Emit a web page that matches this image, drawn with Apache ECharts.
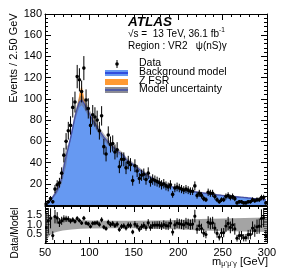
<!DOCTYPE html>
<html><head><meta charset="utf-8">
<script src="https://cdn.jsdelivr.net/npm/echarts@6/dist/echarts.min.js"></script>
<style>html,body{margin:0;padding:0;background:#fff}#c{width:283px;height:274px}</style>
</head><body><div id="c"></div>
<script>
// bin centres (2.5 GeV bins from 50 to 300 GeV)
const binCenters = [
 51.25,53.75,56.25,58.75,61.25,63.75,66.25,68.75,71.25,73.75,
 76.25,78.75,81.25,83.75,86.25,88.75,91.25,93.75,96.25,98.75,
 101.25,103.75,106.25,108.75,111.25,113.75,116.25,118.75,121.25,123.75,
 126.25,128.75,131.25,133.75,136.25,138.75,141.25,143.75,146.25,148.75,
 151.25,153.75,156.25,158.75,161.25,163.75,166.25,168.75,171.25,173.75,
 176.25,178.75,181.25,183.75,186.25,188.75,191.25,193.75,196.25,198.75,
 201.25,203.75,206.25,208.75,211.25,213.75,216.25,218.75,221.25,223.75,
 226.25,228.75,231.25,233.75,236.25,238.75,241.25,243.75,246.25,248.75,
 251.25,253.75,256.25,258.75,261.25,263.75,266.25,268.75,271.25,273.75,
 276.25,278.75,281.25,283.75,286.25,288.75,291.25,293.75,296.25,298.75];
// background model (events / bin)
const background = [
 1.2,2.5,4.5,7.5,10.5,14,19,25,36,46,
 54,63,73,83,91,97,99,96,92,88,
 84,80,77,73,70,67,64,61.5,59,57,
 55,53,51,49.5,48,46.5,43,41.5,40,38.5,
 36.5,35,33.5,32,30.5,29,27.5,26.2,25,23.8,
 22.7,21.7,20.8,20.0,19.2,18.4,17.7,17.0,16.4,15.8,
 15.3,14.8,14.3,13.9,13.5,13.1,12.7,12.4,12.1,11.8,
 11.5,11.2,10.9,10.7,10.4,10.1,9.9,9.6,9.4,9.1,
 8.9,8.7,8.5,8.3,8.1,7.9,7.7,7.5,7.3,7.1,
 7.0,6.7,6.5,6.2,6.0,5.7,5.5,5.3,5.1,4.9];
// Z FSR contribution (stacked on background)
const zfsr = [
 0,0,0,0,0,0,0,0,0,0,
 0,0,0,0,1,8,14,6,1,0,
 0,0,0,0,0,0,0,0,0,0,
 0,0,0,0,0,0,0,0,0,0,
 0,0,0,0,0,0,0,0,0,0,
 0,0,0,0,0,0,0,0,0,0,
 0,0,0,0,0,0,0,0,0,0,
 0,0,0,0,0,0,0,0,0,0,
 0,0,0,0,0,0,0,0,0,0,
 0,0,0,0,0,0,0,0,0,0];
// observed data (events / bin)
const dataCounts = [
 1,3,6,3,15,19,21,30,47,60,
 70,75,92,97,121,118,107,129,99,91,
 75,85,83,80,70,84,55,48,66,57,
 58,50,52,36,43,43,35,40,38,23,
 37,32,25,28,29,24,30,22,24,23,
 22,21,19,20,18,17,19,10,16,17,
 16,15,14,15,14,13,13,18,9,11,
 9,6,5,12,11,11,8,5,3,5,
 5,8,9,7,8,6,2,3,3,2,
 2,3,3,5,4,5,5,7,7,2];
// model uncertainty (relative) in main panel, per 25 GeV segment
const mainUncEdges = [50,75,100,125,150,175,200,225,250,275,300];
const mainUncRel = [0.2,0.05,0.05,0.05,0.06,0.06,0.07,0.08,0.09,0.1];
// model uncertainty band in ratio panel
const ratioBandX  = [50,53,56,60,65,70,80,90,100,125,150,175,200,225,250,275,300];
const ratioBandUp = [1.6,1.55,1.45,1.4,1.33,1.3,1.27,1.24,1.22,1.2,1.2,1.22,1.25,1.3,1.33,1.35,1.38];
const ratioBandDn = [0.1,0.25,0.45,0.55,0.62,0.67,0.73,0.77,0.79,0.8,0.8,0.78,0.74,0.68,0.65,0.62,0.6];
// ticks
const xTickStep = 50, yTickStep = 20, ratioTickStep = 0.5;

const FONT = '"Liberation Sans", Arial, Helvetica, sans-serif';
const chart = echarts.init(document.getElementById('c'), null, {renderer:'canvas'});

function relUnc(x){
  for (let k=0;k<mainUncRel.length;k++){ if (x < mainUncEdges[k+1]) return mainUncRel[k]; }
  return mainUncRel[mainUncRel.length-1];
}

const axTick = {inside:true, length:6, lineStyle:{color:'#000', width:1}};
const minor = (n)=>({show:true, splitNumber:n, length:3, lineStyle:{color:'#000', width:1}});
const axLine = {show:true, onZero:false, lineStyle:{color:'#000', width:1}};
const lbl = {color:'#000', fontFamily:FONT, fontSize:11};

function xAx(grid, pos, showLabel){
  return {type:'value', gridIndex:grid, position:pos, min:50, max:300, interval:xTickStep,
    axisLine:axLine, axisTick:axTick, minorTick:minor(5), splitLine:{show:false},
    axisLabel: showLabel ? Object.assign({margin:4}, lbl) : {show:false}};
}

const option = {
  animation:false,
  grid:[
    {left:45, top:14, width:222, height:191},
    {left:45, top:206, width:222, height:37}
  ],
  xAxis:[ xAx(0,'bottom',false), xAx(0,'top',false), xAx(1,'bottom',true), xAx(1,'top',false) ],
  yAxis:[
    {type:'value', gridIndex:0, position:'left', min:0, max:180, interval:yTickStep,
     axisLine:axLine, axisTick:axTick, minorTick:minor(5), splitLine:{show:false},
     axisLabel:Object.assign({margin:3, showMinLabel:false}, lbl)},
    {type:'value', gridIndex:0, position:'right', min:0, max:180, interval:yTickStep,
     axisLine:axLine, axisTick:axTick, minorTick:minor(5), splitLine:{show:false}, axisLabel:{show:false}},
    {type:'value', gridIndex:1, position:'left', min:0, max:2, interval:ratioTickStep,
     axisLine:axLine, axisTick:{inside:true,length:5,lineStyle:{color:'#000'}}, minorTick:minor(5), splitLine:{show:false},
     axisLabel:Object.assign({margin:3, showMinLabel:false, showMaxLabel:false, formatter:v=>v.toFixed(1)}, lbl)},
    {type:'value', gridIndex:1, position:'right', min:0, max:2, interval:ratioTickStep,
     axisLine:axLine, axisTick:{inside:true,length:5,lineStyle:{color:'#000'}}, minorTick:minor(5), splitLine:{show:false}, axisLabel:{show:false}}
  ],
  series:[
    { // Z FSR (on top of background)
      type:'line', xAxisIndex:0, yAxisIndex:0, symbol:'none', z:1,
      data: binCenters.map((x,i)=>[x, background[i]+zfsr[i]]),
      lineStyle:{width:0}, areaStyle:{color:'#ff9a33', opacity:1}
    },
    { // background model
      type:'line', xAxisIndex:0, yAxisIndex:0, symbol:'none', z:2,
      data: binCenters.map((x,i)=>[x, background[i]]),
      lineStyle:{color:'#1f35d8', width:1.2}, areaStyle:{color:'#6699f2', opacity:1}
    },
    { // model uncertainty band (main)
      type:'custom', xAxisIndex:0, yAxisIndex:0, z:3, silent:true,
      data:[[175,50]],
      renderItem:(params, api)=>{
        const up = binCenters.map((x,i)=>api.coord([x, background[i]*(1+relUnc(x))]));
        const dn = binCenters.map((x,i)=>api.coord([x, background[i]*(1-relUnc(x))])).reverse();
        return {type:'polygon', shape:{points:up.concat(dn)}, style:{fill:'rgba(105,105,115,0.5)'}};
      }
    },
    { // data with error bars
      type:'custom', xAxisIndex:0, yAxisIndex:0, z:5,
      data: binCenters.map((x,i)=>[x, dataCounts[i]]),
      renderItem:(params, api)=>{
        const x = api.value(0), y = api.value(1), e = Math.sqrt(y);
        const p = api.coord([x,y]), lo = api.coord([x, Math.max(0,y-e)]), hi = api.coord([x, y+e]);
        return {type:'group', children:[
          {type:'line', shape:{x1:p[0], y1:lo[1], x2:p[0], y2:hi[1]}, style:{stroke:'#000', lineWidth:1}},
          {type:'circle', shape:{cx:p[0], cy:p[1], r:1.8}, style:{fill:'#000'}}
        ]};
      }
    },
    { // ratio band
      type:'custom', xAxisIndex:2, yAxisIndex:2, z:2, silent:true,
      data:[[175,1]],
      renderItem:(params, api)=>{
        const up = ratioBandX.map((x,i)=>api.coord([x, ratioBandUp[i]]));
        const dn = ratioBandX.map((x,i)=>api.coord([x, ratioBandDn[i]])).reverse();
        return {type:'polygon', shape:{points:up.concat(dn)}, style:{fill:'rgba(125,125,125,0.7)'}};
      }
    },
    { // ratio points
      type:'custom', xAxisIndex:2, yAxisIndex:2, z:5, clip:true,
      data: binCenters.map((x,i)=>[x, dataCounts[i]/background[i], Math.sqrt(dataCounts[i])/background[i]]),
      renderItem:(params, api)=>{
        const x = api.value(0), y = api.value(1), e = api.value(2);
        const p = api.coord([x,y]), lo = api.coord([x, y-e]), hi = api.coord([x, y+e]);
        return {type:'group', children:[
          {type:'line', shape:{x1:p[0], y1:lo[1], x2:p[0], y2:hi[1]}, style:{stroke:'#000', lineWidth:1}},
          {type:'circle', shape:{cx:p[0], cy:p[1], r:1.6}, style:{fill:'#000'}}
        ]};
      }
    }
  ],
  graphic:[
    {type:'text', left:128, top:15, style:{text:'ATLAS', fontFamily:FONT, fontSize:13.5, fontWeight:'bold', fontStyle:'italic', fill:'#000'}},
    {type:'text', left:128, top:29, style:{text:'√s =  13 TeV, 36.1 fb', fontFamily:FONT, fontSize:10, fill:'#000'}},
    {type:'text', left:219, top:27, style:{text:'-1', fontFamily:FONT, fontSize:6.5, fill:'#000'}},
    {type:'text', left:128, top:41, style:{text:'Region : VR2   ψ(nS)γ', fontFamily:FONT, fontSize:10, fill:'#000'}},
    // legend
    {type:'line', shape:{x1:117, y1:60, x2:117, y2:68}, style:{stroke:'#000', lineWidth:1}},
    {type:'circle', shape:{cx:117, cy:64, r:1.8}, style:{fill:'#000'}},
    {type:'text', left:139, top:58, style:{text:'Data', fontFamily:FONT, fontSize:10.5, fill:'#000'}},
    {type:'rect', shape:{x:105, y:70, width:23, height:6}, style:{fill:'#6699f2'}},
    {type:'line', shape:{x1:105, y1:73, x2:128, y2:73}, style:{stroke:'#1f35d8', lineWidth:1.5}},
    {type:'text', left:139, top:67, style:{text:'Background model', fontFamily:FONT, fontSize:10.5, fill:'#000'}},
    {type:'rect', shape:{x:105, y:79, width:23, height:6}, style:{fill:'#ff9a33'}},
    {type:'text', left:139, top:76, style:{text:'Z FSR', fontFamily:FONT, fontSize:10.5, fill:'#000'}},
    {type:'rect', shape:{x:105, y:87, width:23, height:6}, style:{fill:'#8c8c95'}},
    {type:'line', shape:{x1:105, y1:90, x2:128, y2:90}, style:{stroke:'#2a3fb0', lineWidth:1.2}},
    {type:'text', left:139, top:84, style:{text:'Model uncertainty', fontFamily:FONT, fontSize:10.5, fill:'#000'}},
    // axis titles
    {type:'text', x:14, y:58, rotation:Math.PI/2, style:{text:'Events / 2.50 GeV', fontFamily:FONT, fontSize:11, fill:'#000', align:'center', verticalAlign:'middle'}},
    {type:'text', x:15, y:233, rotation:Math.PI/2, style:{text:'Data/Model', fontFamily:FONT, fontSize:10, fill:'#000', align:'center', verticalAlign:'middle'}},
    {type:'text', x:268, y:262, style:{
      text:'{m|m}{s|μ⁺μ⁻γ}{t| [GeV]}', align:'right', verticalAlign:'middle',
      rich:{ m:{fontFamily:FONT, fontSize:11, fill:'#000'},
             s:{fontFamily:FONT, fontSize:7, fill:'#000', padding:[5,0,0,0]},
             t:{fontFamily:FONT, fontSize:11, fill:'#000'} }}}
  ]
};
chart.setOption(option);
</script>
</body></html>
